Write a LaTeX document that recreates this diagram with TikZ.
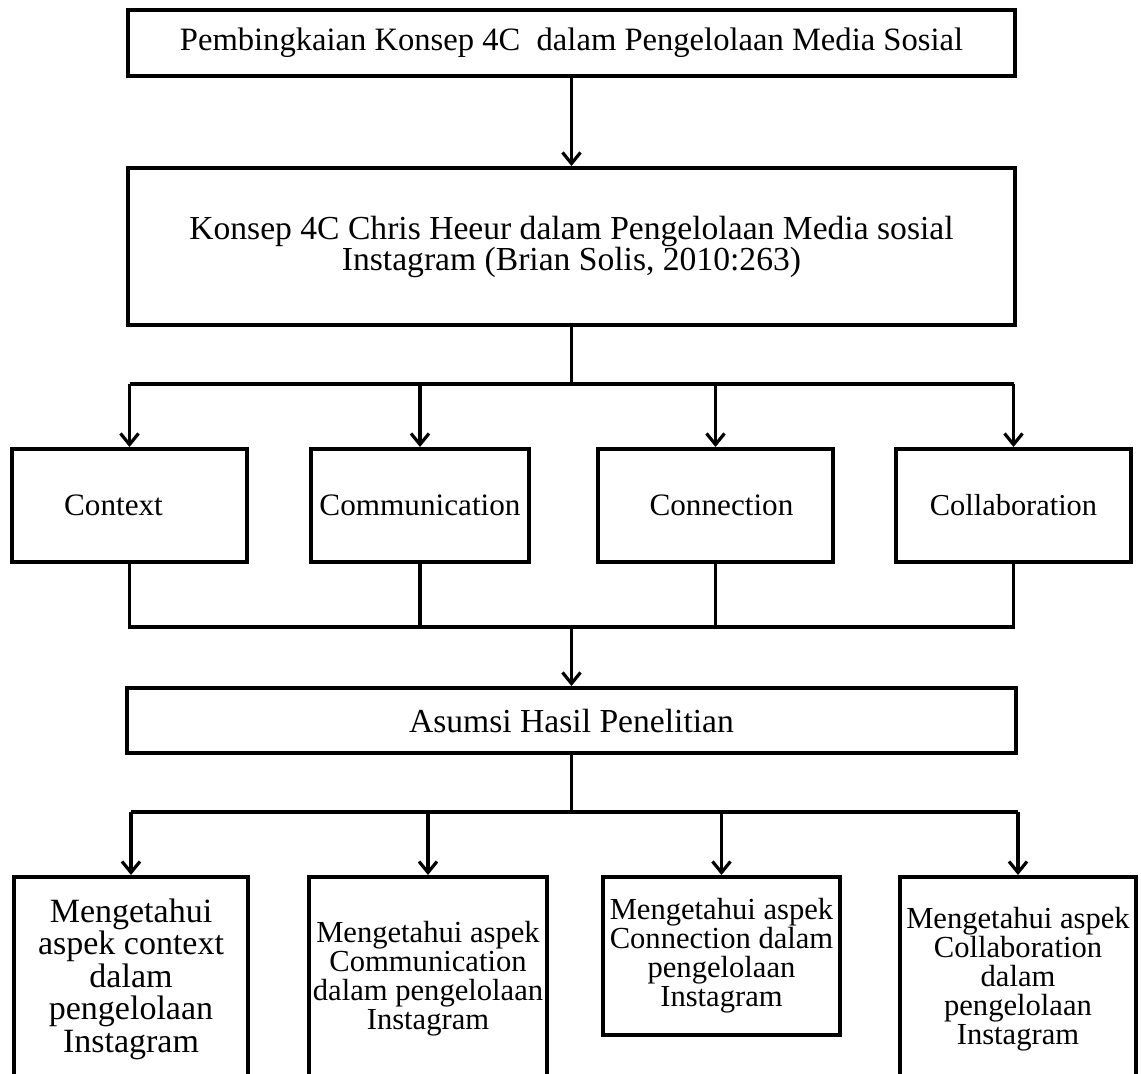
\documentclass[tikz,border=0pt]{standalone}
\usepackage{fontspec}
\setmainfont{Liberation Serif}
\usetikzlibrary{arrows.meta}

\tikzset{
  kotak/.style={draw, line width=2pt, inner sep=0pt, align=center},
  garis/.style={line width=1.6pt},
  panah/.style={garis, -{Straight Barb[length=5.5pt, width=9pt, line width=1.6pt]}},
  teksbesar/.style={font=\fontsize{17}{16.25}\selectfont},
  tekskecil/.style={font=\fontsize{15.3}{14.5}\selectfont},
}

\begin{document}
\begin{tikzpicture}[x=0.5pt, y=-0.5pt]
	\clip (0,0) rectangle (1141,1073);
	%%%	Kotak atas
	\node[kotak, minimum width=443.5pt, minimum height=33pt, font=\fontsize{16.3}{17}\selectfont] (judul) at (571.5,43) {Pembingkaian Konsep 4C~ dalam Pengelolaan Media Sosial};
	\node[kotak, minimum width=443.5pt, minimum height=78.5pt, font=\fontsize{16.8}{15.5}\selectfont] (konsep) at (571.5,246.5) {Konsep 4C Chris Heeur dalam Pengelolaan Media sosial\\Instagram (Brian Solis, 2010:263)};
	\draw[panah] (judul) -- (konsep);
	%%%	Konsep 4C
	\node[kotak, minimum width=117.5pt, minimum height=56.5pt, font=\fontsize{15.6}{16}\selectfont] (konteks) at (129.5,505.5) {Context\hspace*{16pt}};
	\node[kotak, minimum width=109pt, minimum height=56.5pt, font=\fontsize{15.6}{16}\selectfont] (komunikasi) at (420,505.5) {Communication};
	\node[kotak, minimum width=117.5pt, minimum height=56.5pt, font=\fontsize{15.6}{16}\selectfont] (koneksi) at (715.5,505.5) {\hspace*{6pt}Connection};
	\node[kotak, minimum width=117.5pt, minimum height=56.5pt, font=\fontsize{15.2}{16}\selectfont] (kolaborasi) at (1013.5,505.5) {Collaboration};
	\coordinate (cabang1) at (571.5,384);
	\draw[garis] (konsep) -- (cabang1);
	\draw[garis] (konteks.north |- cabang1) -- (kolaborasi.north |- cabang1);
	\foreach \n in {konteks, komunikasi, koneksi, kolaborasi}
	\draw[panah] (\n.north |- cabang1) -- (\n.north);
	%%%	Gabungan
	\coordinate (gabung) at (571.5,627);
	\draw[garis] (konteks.south) -- (konteks.south |- gabung) -- (kolaborasi.south |- gabung) -- (kolaborasi.south);
	\draw[garis] (komunikasi.south) -- (komunikasi.south |- gabung);
	\draw[garis] (koneksi.south) -- (koneksi.south |- gabung);
	\node[kotak, minimum width=444.5pt, minimum height=32.5pt, font=\fontsize{16.8}{17}\selectfont] (asumsi) at (571.5,720.5) {Asumsi Hasil Penelitian};
	\draw[panah] (gabung) -- (asumsi);
	%%%	Tujuan
	\node[kotak, teksbesar, anchor=north, minimum width=117pt, minimum height=102pt] (tujuan1) at (131,875) {Mengetahui\\aspek context\\dalam\\pengelolaan\\Instagram};
	\node[kotak, tekskecil, anchor=north, minimum width=119pt, minimum height=102pt] (tujuan2) at (428,875) {Mengetahui aspek\\Communication\\dalam pengelolaan\\Instagram};
	\node[kotak, tekskecil, anchor=north, minimum width=118.5pt, minimum height=79pt] (tujuan3) at (721.5,875) {Mengetahui aspek\\Connection dalam\\pengelolaan\\Instagram};
	\node[kotak, tekskecil, anchor=north, minimum width=118pt, minimum height=102pt] (tujuan4) at (1018,875) {Mengetahui aspek\\Collaboration\\dalam\\pengelolaan\\Instagram};
	\coordinate (cabang2) at (571.5,812);
	\draw[garis] (asumsi) -- (cabang2);
	\draw[garis] (tujuan1.north |- cabang2) -- (tujuan4.north |- cabang2);
	\foreach \n in {tujuan1, tujuan2, tujuan3, tujuan4}
	\draw[panah] (\n.north |- cabang2) -- (\n.north);
\end{tikzpicture}
\end{document}
